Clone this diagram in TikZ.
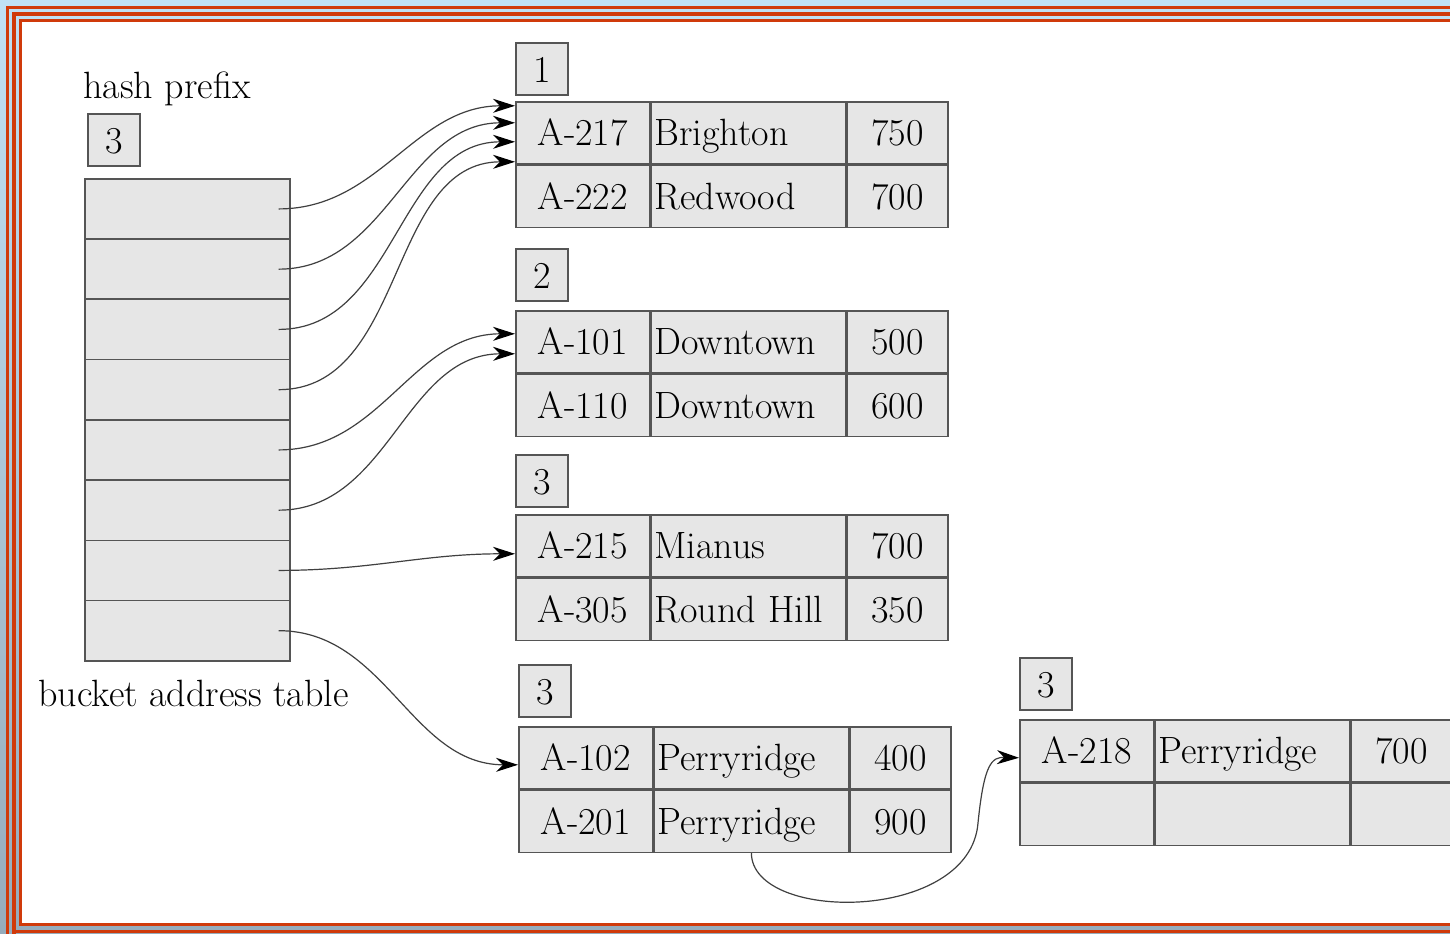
\documentclass[tikz,border=0pt]{standalone}
\usepackage{tikz}
\usetikzlibrary{positioning,arrows.meta}
\definecolor{framered}{RGB}{208,58,10}
\definecolor{framesky}{RGB}{192,224,244}
\definecolor{framedust}{RGB}{150,172,188}
\definecolor{cellgray}{RGB}{230,230,230}
\definecolor{edgegray}{RGB}{85,85,85}

\begin{document}
\begin{tikzpicture}[x=0.5pt, y=0.5pt,
    font=\fontsize{19}{23}\selectfont,
    box/.style={draw=edgegray, line width=0.8pt, fill=cellgray, inner sep=0pt,
                text height=14pt, text depth=1pt, minimum height=31pt},
    idcell/.style={box, minimum width=67pt},
    namecell/.style={box, minimum width=97pt, text width=94pt, align=left},
    balcell/.style={box, minimum width=50.5pt},
    tag/.style={box, minimum width=26pt, minimum height=26pt},
    slot/.style={box, minimum width=102.5pt, minimum height=30.125pt},
    link/.style={draw=black!75, line width=0.6pt,
                 -{Stealth[length=11pt,width=7pt,inset=3.5pt,color=black]}}]

    % Frame
    \useasboundingbox (0,0) rectangle (1450,933);
    \clip (0,0) rectangle (1450,933);
    \shade[top color=framesky, bottom color=framedust] (0,0) rectangle (1450,933);
    \fill[white] (22,10) rectangle (1460,911);
    \draw[framered, line width=1.5pt] (7.5,-10) -- (7.5,925.5) -- (1460,925.5);
    \draw[framered, line width=2pt] (14,-10) -- (14,919) -- (1460,919);
    \draw[framered, line width=1.5pt] (14,1.5) -- (1460,1.5);
    \draw[framered, line width=1.5pt] (20.5,8.5) rectangle (1460,912.5);

    % Bucket address table
    \foreach \i in {1,...,8}
        \node[slot, anchor=north west] (row\i) at (84, {755-(\i-1)*60.25}) {};
    \node[tag, above right=5.5pt and 1.5pt of row1.north west] (pfx) {3};
    \node[anchor=base west, inner sep=0pt] (hp) at ([xshift=-2pt, yshift=7.5pt]pfx.north west) {hash prefix};
    \node[anchor=base west, inner sep=0pt] (bat) at ([xshift=-23pt, yshift=-22.5pt]row8.south west) {bucket address table};

    % Bucket 1
    \node[idcell, anchor=north west] (b1a1) at (515,832) {A-217};
    \node[namecell, right=0pt of b1a1] (b1a2) {Brighton};
    \node[balcell, right=0pt of b1a2] (b1a3) {750};
    \node[idcell, below=0pt of b1a1] (b1b1) {A-222};
    \node[namecell, right=0pt of b1b1] (b1b2) {Redwood};
    \node[balcell, right=0pt of b1b2] (b1b3) {700};
    \node[tag, above right=2.5pt and 0pt of b1a1.north west] (tag1) {1};

    % Bucket 2
    \node[idcell, anchor=north west] (b2a1) at (515,623) {A-101};
    \node[namecell, right=0pt of b2a1] (b2a2) {Downtown};
    \node[balcell, right=0pt of b2a2] (b2a3) {500};
    \node[idcell, below=0pt of b2a1] (b2b1) {A-110};
    \node[namecell, right=0pt of b2b1] (b2b2) {Downtown};
    \node[balcell, right=0pt of b2b2] (b2b3) {600};
    \node[tag, above right=4pt and 0pt of b2a1.north west] (tag2) {2};

    % Bucket 3
    \node[idcell, anchor=north west] (b3a1) at (515,419) {A-215};
    \node[namecell, right=0pt of b3a1] (b3a2) {Mianus};
    \node[balcell, right=0pt of b3a2] (b3a3) {700};
    \node[idcell, below=0pt of b3a1] (b3b1) {A-305};
    \node[namecell, right=0pt of b3b1] (b3b2) {Round Hill};
    \node[balcell, right=0pt of b3b2] (b3b3) {350};
    \node[tag, above right=3pt and 0pt of b3a1.north west] (tag3) {3};

    % Bucket 4
    \node[idcell, anchor=north west] (b4a1) at (518,207) {A-102};
    \node[namecell, right=0pt of b4a1] (b4a2) {Perryridge};
    \node[balcell, right=0pt of b4a2] (b4a3) {400};
    \node[idcell, below=0pt of b4a1] (b4b1) {A-201};
    \node[namecell, right=0pt of b4b1] (b4b2) {Perryridge};
    \node[balcell, right=0pt of b4b2] (b4b3) {900};
    \node[tag, above right=4pt and 0pt of b4a1.north west] (tag4) {3};

    % Bucket 5 (overflow)
    \node[idcell, anchor=north west] (b5a1) at (1019,214) {A-218};
    \node[namecell, right=0pt of b5a1] (b5a2) {Perryridge};
    \node[balcell, right=0pt of b5a2] (b5a3) {700};
    \node[idcell, below=0pt of b5a1] (b5b1) {};
    \node[namecell, right=0pt of b5b1] (b5b2) {};
    \node[balcell, right=0pt of b5b2] (b5b3) {};
    \node[tag, above right=4pt and 0pt of b5a1.north west] (tag5) {3};

    % Pointers
    \foreach \i in {1,...,8} \coordinate (p\i) at ([xshift=-6pt]row\i.east);
    \draw[link] (p1) to[out=0,in=180] ([yshift=13.5pt]b1a1.west);
    \draw[link] (p2) to[out=0,in=180] ([yshift=5pt]b1a1.west);
    \draw[link] (p3) to[out=0,in=180] ([yshift=-4.5pt]b1a1.west);
    \draw[link] (p4) to[out=0,in=180] ([yshift=-14.5pt]b1a1.west);
    \draw[link] (p5) to[out=0,in=180] ([yshift=4pt]b2a1.west);
    \draw[link] (p6) to[out=0,in=180] ([yshift=-6pt]b2a1.west);
    \draw[link] (p7) to[out=0,in=180] ([yshift=-4pt]b3a1.west);
    \draw[link] (p8) to[out=0,in=180] ([yshift=-3.5pt]b4a1.west);
    \draw[link] (b4b2.south) .. controls (752,10) and (970,10) .. (978,110)
        .. controls (984,170) and (992,176) .. ([yshift=-3.5pt]b5a1.west);
\end{tikzpicture}
\end{document}
